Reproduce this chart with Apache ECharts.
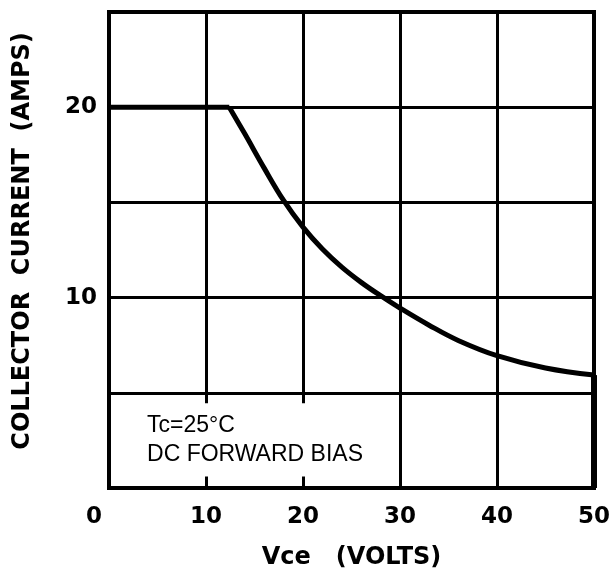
<!DOCTYPE html>
<html>
<head>
<meta charset="utf-8">
<script src="https://cdn.jsdelivr.net/npm/echarts@6.0.0/dist/echarts.min.js"></script>
<style>
  html, body { margin: 0; padding: 0; background: #fff; }
  #chart { width: 613px; height: 575px; }
</style>
</head>
<body>
<div id="chart"></div>
<script>
// safe operating area curve
var vce  = [0, 12.4, 14, 16, 18, 20, 22, 24, 26, 28, 30, 33, 36, 40, 45, 50];
var amps = [20, 20, 18.6, 16.8, 15.1, 13.7, 12.55, 11.6, 10.8, 10.1, 9.45, 8.55, 7.75, 6.95, 6.3, 5.93];
var xTicks = [0, 10, 20, 30, 40, 50];
var yLabels = [10, 20];
var noteLines = ["Tc=25°C", "DC FORWARD BIAS"];

var flat = [], curve = [];
for (var i = 0; i < vce.length; i++) {
  if (i <= 1) flat.push([vce[i], amps[i]]);
  if (i >= 1) curve.push([vce[i], amps[i]]);
}
var last = curve[curve.length - 1];
var edge = [last, [last[0], 0]];

var chart = echarts.init(document.getElementById("chart"));
var boldFont = "DejaVu Sans";

var option = {
  animation: false,
  backgroundColor: "#fff",
  grid: {
    left: 109, top: 12, width: 485, height: 476,
    show: true, borderColor: "#000", borderWidth: 4,
    outerBoundsMode: "none"
  },
  xAxis: {
    type: "value",
    min: xTicks[0], max: xTicks[xTicks.length - 1], interval: 10,
    name: "Vce   (VOLTS)",
    nameLocation: "middle",
    nameGap: 58,
    nameTextStyle: { fontFamily: boldFont, fontWeight: "bold", fontSize: 24, color: "#000" },
    axisLine: { show: true, lineStyle: { color: "#000", width: 4 } },
    axisTick: { show: false },
    splitLine: { show: true, lineStyle: { color: "#000", width: 3 } },
    axisLabel: {
      margin: 18,
      fontFamily: boldFont, fontWeight: "bold", fontSize: 23, color: "#000",
      formatter: function (v) { return v === 0 ? "{z|0}" : String(v); },
      rich: { z: { fontFamily: boldFont, fontWeight: "bold", fontSize: 23, color: "#000", padding: [0, 30, 0, 0] } }
    }
  },
  yAxis: {
    type: "value",
    min: 0, max: 25, interval: 5,
    name: "COLLECTOR  CURRENT  (AMPS)",
    nameLocation: "middle",
    nameGap: 74,
    nameRotate: 90,
    nameTextStyle: { fontFamily: boldFont, fontWeight: "bold", fontSize: 24, color: "#000", padding: [0, 0, 0, 18] },
    axisLine: { show: true, lineStyle: { color: "#000", width: 4 } },
    axisTick: { show: false },
    splitLine: { show: true, lineStyle: { color: "#000", width: 3 } },
    axisLabel: {
      margin: 12,
      fontFamily: boldFont, fontWeight: "bold", fontSize: 23, color: "#000",
      formatter: function (v) { return yLabels.indexOf(v) >= 0 ? String(v) : ""; }
    }
  },
  series: [
    {
      // blank the gridlines behind the note box, leaving short stubs
      type: "line", data: [], silent: true,
      markArea: {
        silent: true,
        itemStyle: { color: "#fff", opacity: 1 },
        data: [[{ coord: [0.4, 0.6] }, { coord: [29.6, 4.45] }]]
      }
    },
    {
      type: "line", data: flat, showSymbol: false,
      lineStyle: { color: "#000", width: 5 }
    },
    {
      type: "line", data: curve, showSymbol: false, smooth: 0.4,
      lineStyle: { color: "#000", width: 5 }
    },
    {
      type: "line", data: edge, showSymbol: false,
      lineStyle: { color: "#000", width: 6 }
    }
  ]
};
chart.setOption(option);

var p1 = chart.convertToPixel({ gridIndex: 0 }, [3.92, 3.28]);
var p2 = chart.convertToPixel({ gridIndex: 0 }, [3.92, 1.73]);
chart.setOption({
  graphic: [
    { type: "text", z: 100, x: p1[0], y: p1[1], style: { text: noteLines[0], font: "23px 'Liberation Sans'", fill: "#000", verticalAlign: "middle" } },
    { type: "text", z: 100, x: p2[0], y: p2[1], style: { text: noteLines[1], font: "23px 'Liberation Sans'", fill: "#000", verticalAlign: "middle" } }
  ]
});
</script>
</body>
</html>
